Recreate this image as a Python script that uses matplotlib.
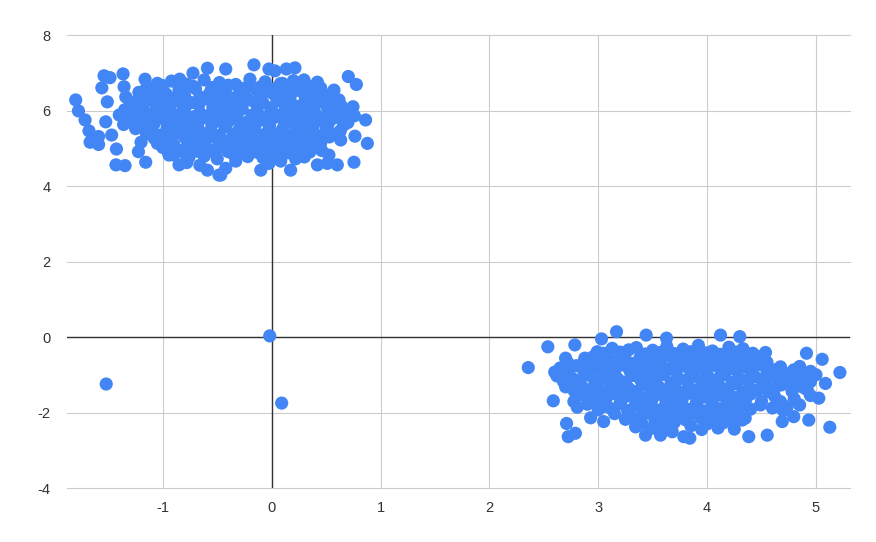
import numpy as np
import matplotlib.pyplot as plt

plt.rcParams['font.family'] = ['Liberation Sans', 'DejaVu Sans']
plt.rcParams['axes.unicode_minus'] = False

# Agrupamento da esquerda (contorno + interior)
left_x = [-1.80, -1.775, -1.714, -1.678, -1.668, -1.59, -1.59, -1.54, -1.485, -1.56,
          -1.365, -1.163, -1.426, -1.43, -1.347, -1.157, -1.51, -1.524, -1.47, -1.356,
          -1.34, -1.224, -1.20, -1.02, -0.845, -0.723, -0.59, -0.851, -0.59, -0.484,
          -0.943, -0.422, -0.163, -0.025, 0.03, 0.135, 0.214, 0.297, 0.42, 0.572,
          0.704, 0.778, 0.618, 0.747, 0.863, 0.526, 0.634, 0.765, 0.879, 0.756,
          0.603, 0.511, 0.42, 0.526, 0.22, 0.174, 0.083, -0.025, -0.10, -0.422,
          -0.468, 0.098,
          -1.05, -0.92, -0.78, -0.62, -0.48, -0.33, -0.2, -0.06, 0.08, 0.2, 0.33,
          -1.22, -1.1, -0.97, -0.85, -0.7, -0.57, -0.43, -0.3, -0.15, -0.02, 0.12, 0.25, 0.38, 0.5,
          -1.28, -1.12, -0.99, -0.88, -0.74, -0.6, -0.47, -0.35, -0.21, -0.08, 0.05, 0.18, 0.31, 0.45, 0.58,
          -1.35, -1.2, -1.05, -0.93, -0.8, -0.66, -0.53, -0.4, -0.27, -0.13, 0.0, 0.14, 0.27, 0.4, 0.55, 0.68,
          -1.3, -1.16, -1.02, -0.9, -0.76, -0.63, -0.5, -0.36, -0.23, -0.1, 0.03, 0.17, 0.3, 0.43, 0.57, 0.7,
          -1.25, -1.1, -0.96, -0.83, -0.7, -0.56, -0.43, -0.3, -0.16, -0.03, 0.1, 0.23, 0.36, 0.5, 0.63,
          -1.08, -0.94, -0.8, -0.67, -0.53, -0.4, -0.26, -0.13, 0.0, 0.13, 0.26, 0.4, 0.53,
          -1.0, -0.86, -0.73, -0.58, -0.45, -0.31, -0.17, -0.04, 0.1, 0.24, 0.38, 0.46,
          -0.9, -0.76, -0.62, -0.5, -0.35, -0.22, -0.08, 0.05, 0.3,
          -1.15, -1.0, -0.85, -0.72, -0.55, -0.4, -0.25, -0.1, 0.02, 0.16, 0.3, 0.45,
          -1.2, -1.05, -0.92, -0.8, -0.66, -0.52, -0.38, -0.25, -0.11, 0.03, 0.17, 0.31, 0.44, 0.56,
          -1.3, -1.18, -1.06, -0.93, -0.81, -0.67, -0.54, -0.41, -0.28, -0.14, -0.01, 0.12, 0.25, 0.38, 0.51, 0.64,
          -1.4, -1.27, -1.12, -0.98, -0.85, -0.71, -0.58, -0.45, -0.32, -0.18, -0.05, 0.09, 0.22, 0.36, 0.5, 0.62, 0.76,
          -1.36, -1.22, -1.08, -0.95, -0.81, -0.68, -0.55, -0.41, -0.28, -0.15, -0.02, 0.12, 0.25, 0.38, 0.52, 0.66,
          -1.15, -1.02, -0.88, -0.75, -0.62, -0.48, -0.35, -0.21, -0.08, 0.05, 0.18, 0.32, 0.46, 0.58,
          -1.05, -0.9, -0.77, -0.62, -0.48, -0.35, -0.22, -0.08, 0.05, 0.18, 0.32, 0.45,
          -0.95, -0.8, -0.68, -0.52, -0.4, -0.27, -0.13, 0.0, 0.15, 0.35,
          -0.78, -0.66, -0.33]
left_y = [6.28, 5.99, 5.75, 5.46, 5.16, 5.31, 5.10, 6.92, 6.87, 6.60,
          6.97, 6.83, 4.98, 4.56, 4.54, 4.63, 6.23, 5.70, 5.35, 6.63,
          6.36, 4.91, 5.16, 6.63, 6.83, 6.99, 7.12, 4.56, 4.42, 4.29,
          4.82, 7.10, 7.21, 7.10, 7.05, 7.10, 7.13, 6.81, 6.75, 6.54,
          6.90, 6.69, 6.28, 6.10, 5.75, 5.88, 5.22, 5.32, 5.13, 4.63,
          4.56, 4.60, 4.56, 4.82, 4.72, 4.42, 4.66, 4.60, 4.42, 4.47,
          4.29, 6.72,
          6.72, 6.78, 6.70, 6.81, 6.74, 6.69, 6.83, 6.76, 6.71, 6.79, 6.66,
          6.48, 6.55, 6.44, 6.52, 6.58, 6.46, 6.51, 6.43, 6.57, 6.49, 6.45, 6.53, 6.47, 6.41,
          6.22, 6.29, 6.18, 6.27, 6.21, 6.31, 6.24, 6.17, 6.28, 6.2, 6.26, 6.19, 6.3, 6.23, 6.16,
          6.02, 5.96, 6.05, 5.98, 6.03, 5.94, 6.06, 5.99, 6.04, 5.95, 6.01, 5.97, 6.07, 5.93, 6.0, 5.96,
          5.77, 5.72, 5.8, 5.7, 5.76, 5.81, 5.73, 5.78, 5.69, 5.75, 5.82, 5.71, 5.77, 5.74, 5.8, 5.68,
          5.52, 5.46, 5.55, 5.48, 5.53, 5.45, 5.56, 5.49, 5.54, 5.47, 5.51, 5.44, 5.55, 5.5, 5.46,
          5.27, 5.21, 5.29, 5.23, 5.3, 5.2, 5.26, 5.31, 5.22, 5.28, 5.19, 5.25, 5.3,
          5.02, 4.96, 5.04, 4.98, 5.05, 4.95, 5.01, 4.97, 5.03, 4.99, 5.06, 4.94,
          4.82, 4.76, 4.79, 4.72, 4.84, 4.78, 4.75, 4.81, 4.77,
          6.6, 6.66, 6.58, 6.64, 6.61, 6.67, 6.59, 6.63, 6.57, 6.65, 6.62, 6.6,
          6.35, 6.4, 6.33, 6.39, 6.36, 6.41, 6.34, 6.38, 6.32, 6.4, 6.37, 6.35, 6.39, 6.33,
          6.1, 6.14, 6.08, 6.13, 6.11, 6.15, 6.09, 6.12, 6.1, 6.16, 6.07, 6.13, 6.11, 6.14, 6.09, 6.12,
          5.88, 5.85, 5.9, 5.86, 5.89, 5.84, 5.87, 5.91, 5.86, 5.88, 5.83, 5.89, 5.87, 5.9, 5.85, 5.88, 5.86,
          5.63, 5.6, 5.65, 5.61, 5.64, 5.59, 5.62, 5.66, 5.6, 5.63, 5.61, 5.64, 5.62, 5.58, 5.65, 5.61,
          5.38, 5.35, 5.4, 5.36, 5.39, 5.34, 5.37, 5.41, 5.35, 5.38, 5.36, 5.4, 5.34, 5.37,
          5.13, 5.1, 5.15, 5.11, 5.14, 5.09, 5.12, 5.16, 5.1, 5.13, 5.11, 5.14,
          4.9, 4.87, 4.92, 4.88, 4.91, 4.86, 4.89, 4.93, 4.88, 4.9,
          4.62, 4.55, 4.66]

# Agrupamento da direita
right_x = [2.357, 2.537, 2.785, 3.03, 3.168, 3.44, 3.627, 2.587, 2.623, 2.70,
           2.877, 2.709, 2.724, 2.79, 2.776, 2.807, 2.93, 3.05, 2.70, 2.99,
           3.128, 3.28, 3.343, 3.434, 3.572, 3.68,
           4.123, 4.30, 4.536, 4.40, 4.674, 4.913, 5.057, 5.22, 5.087, 5.026,
           4.796, 4.934, 5.127, 4.796, 4.69, 4.552, 4.383, 4.322, 4.49, 4.567,
           4.674, 3.841, 3.786, 4.414, 4.353, 4.78, 4.735,
           3.35, 3.5, 3.63, 3.78, 3.92, 4.05, 4.2, 4.33,
           2.95, 3.1, 3.24, 3.38, 3.52, 3.66, 3.8, 3.94, 4.08, 4.22, 4.36, 4.5,
           2.65, 2.8, 2.94, 3.08, 3.22, 3.36, 3.5, 3.64, 3.78, 3.92, 4.06, 4.2, 4.34, 4.48, 4.62, 4.85,
           2.62, 2.76, 2.9, 3.04, 3.18, 3.32, 3.46, 3.6, 3.74, 3.88, 4.02, 4.16, 4.3, 4.44, 4.58, 4.72, 4.9, 5.0,
           2.72, 2.86, 3.0, 3.14, 3.28, 3.42, 3.56, 3.7, 3.84, 3.98, 4.12, 4.26, 4.4, 4.54, 4.68, 4.88,
           2.85, 3.0, 3.14, 3.28, 3.42, 3.56, 3.7, 3.84, 3.98, 4.12, 4.26, 4.4, 4.62, 4.95,
           2.9, 3.05, 3.2, 3.34, 3.48, 3.62, 3.76, 3.9, 4.04, 4.18, 4.32, 4.6, 4.85,
           3.15, 3.3, 3.45, 3.6, 3.74, 3.88, 4.02, 4.16, 4.28,
           3.4, 3.55, 3.7, 3.85, 4.0, 4.15,
           3.05, 3.2, 3.43, 3.57, 3.7, 3.85, 3.99, 4.12, 4.27, 4.42,
           2.72, 2.87, 3.01, 3.15, 3.29, 3.43, 3.57, 3.71, 3.85, 3.99, 4.13, 4.27, 4.41, 4.55,
           2.6, 2.72, 2.87, 3.01, 3.15, 3.29, 3.43, 3.57, 3.71, 3.85, 3.99, 4.13, 4.27, 4.41, 4.55, 4.69, 4.8, 4.95,
           2.68, 2.83, 2.97, 3.11, 3.25, 3.39, 3.53, 3.67, 3.81, 3.95, 4.09, 4.23, 4.37, 4.51, 4.65, 4.8, 4.95,
           2.78, 2.92, 3.07, 3.21, 3.35, 3.49, 3.63, 3.77, 3.91, 4.05, 4.19, 4.33, 4.47, 4.61, 4.78, 4.92,
           2.95, 3.07, 3.21, 3.35, 3.49, 3.63, 3.77, 3.91, 4.05, 4.19, 4.33, 4.5, 4.8,
           3.0, 3.12, 3.27, 3.41, 3.55, 3.69, 3.83, 3.97, 4.11, 4.25, 4.4, 4.7,
           3.25, 3.38, 3.52, 3.66, 3.8, 3.94, 4.08, 4.22, 4.35,
           3.48, 3.62, 3.95, 4.1, 4.25]
right_y = [-0.81, -0.26, -0.21, -0.05, 0.14, 0.05, -0.03, -1.69, -0.96, -0.56,
           -0.56, -2.29, -2.64, -2.55, -1.71, -1.86, -2.14, -2.24, -1.32, -0.39,
           -0.30, -0.34, -2.38, -2.60, -2.60, -2.51,
           0.05, 0.01, -0.41, -0.56, -0.79, -0.43, -0.59, -0.94, -1.23, -1.62,
           -0.87, -2.20, -2.39, -2.11, -2.24, -2.60, -2.64, -2.20, -1.80, -1.45,
           -1.71, -2.68, -2.64, -1.45, -1.67, -1.32, -1.85,
           -0.28, -0.35, -0.25, -0.32, -0.22, -0.37, -0.27, -0.31,
           -0.53, -0.6, -0.5, -0.57, -0.62, -0.52, -0.58, -0.49, -0.61, -0.55, -0.59, -0.51,
           -0.82, -0.76, -0.85, -0.79, -0.74, -0.83, -0.78, -0.86, -0.77, -0.81, -0.75, -0.84, -0.8, -0.73, -0.87, -0.78,
           -1.03, -1.09, -1.01, -1.07, -1.11, -1.02, -1.06, -0.99, -1.1, -1.04, -1.08, -1.0, -1.12, -1.05, -1.03, -1.09, -1.06, -1.0,
           -1.28, -1.34, -1.26, -1.31, -1.36, -1.27, -1.33, -1.25, -1.35, -1.29, -1.32, -1.24, -1.37, -1.3, -1.27, -1.33,
           -1.53, -1.58, -1.5, -1.56, -1.61, -1.52, -1.57, -1.49, -1.59, -1.54, -1.6, -1.51, -1.57, -1.55,
           -1.78, -1.84, -1.76, -1.81, -1.86, -1.77, -1.83, -1.75, -1.85, -1.79, -1.82, -1.88, -1.8,
           -2.03, -2.09, -2.01, -2.07, -2.11, -2.02, -2.08, -2.0, -2.06,
           -2.28, -2.33, -2.26, -2.35, -2.3, -2.27,
           -0.43, -0.4, -0.45, -0.41, -0.44, -0.39, -0.42, -0.46, -0.4, -0.43,
           -0.68, -0.65, -0.7, -0.66, -0.69, -0.64, -0.67, -0.71, -0.65, -0.68, -0.66, -0.7, -0.64, -0.67,
           -0.93, -0.9, -0.95, -0.91, -0.94, -0.89, -0.92, -0.96, -0.9, -0.93, -0.91, -0.95, -0.89, -0.92, -0.94, -0.9, -0.93, -0.91,
           -1.18, -1.15, -1.2, -1.16, -1.19, -1.14, -1.17, -1.21, -1.15, -1.18, -1.16, -1.2, -1.14, -1.17, -1.19, -1.15, -1.18,
           -1.43, -1.4, -1.45, -1.41, -1.44, -1.39, -1.42, -1.46, -1.4, -1.43, -1.41, -1.45, -1.39, -1.42, -1.44, -1.4,
           -1.68, -1.65, -1.7, -1.66, -1.69, -1.64, -1.67, -1.71, -1.65, -1.68, -1.66, -1.7, -1.64,
           -1.93, -1.9, -1.95, -1.91, -1.94, -1.89, -1.92, -1.96, -1.9, -1.93, -1.91, -1.95,
           -2.18, -2.15, -2.2, -2.16, -2.19, -2.14, -2.17, -2.21, -2.15,
           -2.43, -2.4, -2.45, -2.41, -2.44]

# Pontos isolados
outlier_x = [-1.52, -0.018, 0.092]
outlier_y = [-1.245, 0.03, -1.75]

x_ticks = [-1, 0, 1, 2, 3, 4, 5]
y_ticks = [-4, -2, 0, 2, 4, 6, 8]

fig = plt.figure(figsize=(8.76, 5.42), dpi=100)
ax = fig.add_axes([0.0765, 0.0996, 0.8935, 0.8358])

xs = np.concatenate([left_x, right_x, outlier_x])
ys = np.concatenate([left_y, right_y, outlier_y])
ax.scatter(xs, ys, s=90, color='#4285F4', edgecolors='none', zorder=3)

ax.set_xlim(-1.88, 5.31)
ax.set_ylim(-4, 8)
ax.set_xticks(x_ticks)
ax.set_yticks(y_ticks)
ax.set_axisbelow(True)
ax.grid(True, color='#cccccc', linewidth=0.8)
for gl in ax.get_xgridlines() + ax.get_ygridlines():
    gl.set_clip_on(False)
ax.axvline(0, color='#333333', linewidth=1.0, zorder=2)
ax.axhline(0, color='#333333', linewidth=1.0, zorder=2)
for s in ax.spines.values():
    s.set_visible(False)
ax.tick_params(length=0, labelsize=10.5, labelcolor='#333333')
ax.tick_params(axis='x', pad=9)
ax.tick_params(axis='y', pad=12)

plt.savefig('out.png', dpi=100)
